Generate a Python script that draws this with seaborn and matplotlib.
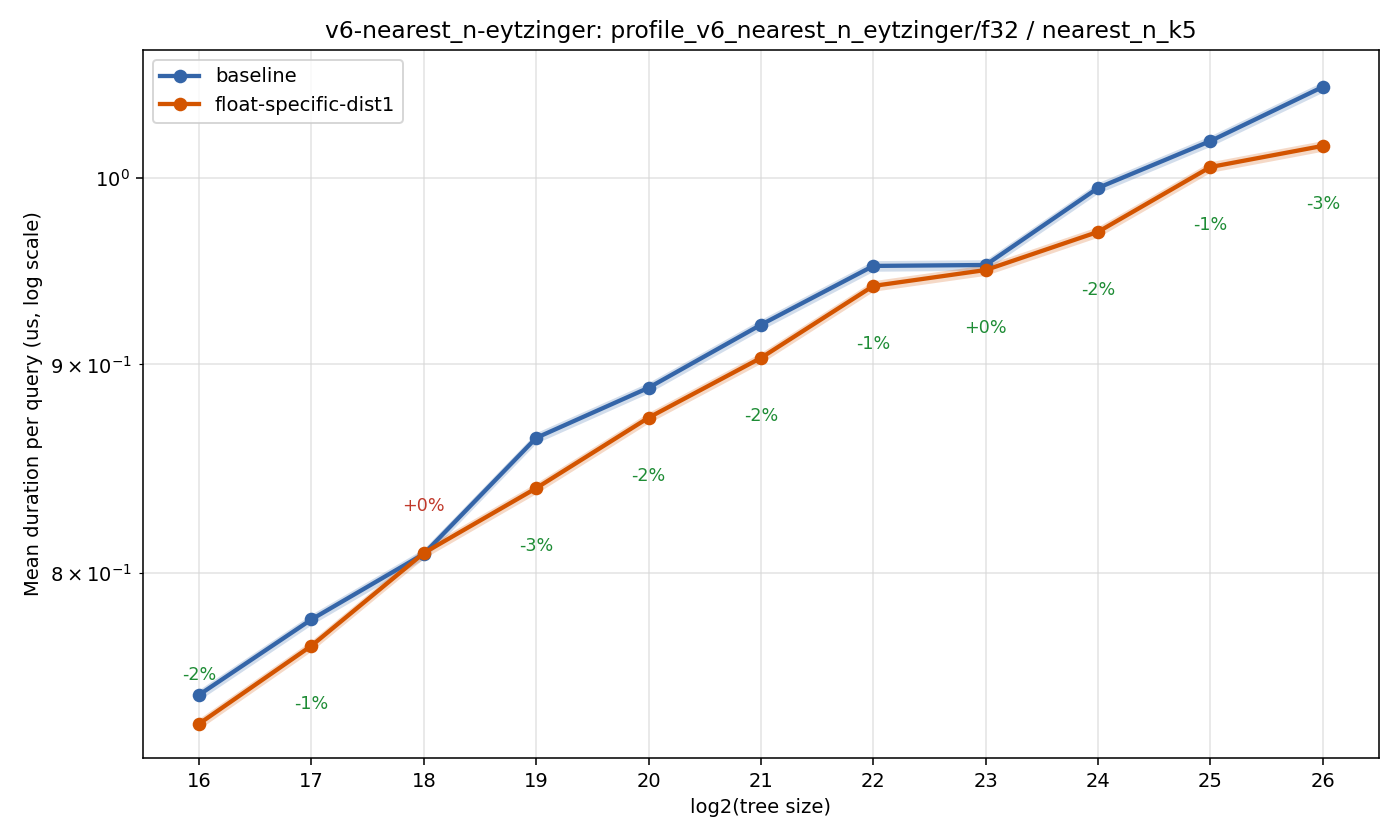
import numpy as np
import pandas as pd
import matplotlib
matplotlib.use("Agg")
import matplotlib.pyplot as plt
import seaborn as sns

# ---- data ----
tree_log2 = [16, 17, 18, 19, 20, 21, 22, 23, 24, 25, 26]
baseline = [0.7467, 0.7792, 0.8086, 0.8634, 0.8882, 0.9204, 0.9515, 0.9520, 0.9944, 1.0211, 1.0528]
float_dist1 = [0.7346, 0.7677, 0.8090, 0.8392, 0.8733, 0.9033, 0.9408, 0.9493, 0.9700, 1.0062, 1.0183]
# approx. half-width of the shaded spread band (relative)
baseline_spread = [0.003, 0.003, 0.003, 0.003, 0.003, 0.003, 0.003, 0.003, 0.003, 0.003, 0.003]
float_spread = [0.003, 0.003, 0.003, 0.003, 0.003, 0.003, 0.003, 0.003, 0.003, 0.003, 0.003]
series_names = ["baseline", "float-specific-dist1"]

title = "v6-nearest_n-eytzinger: profile_v6_nearest_n_eytzinger/f32 / nearest_n_k5"

colors = {"baseline": "#3465a8", "float-specific-dist1": "#d35400"}

df = pd.DataFrame({
    "x": tree_log2 * 2,
    "y": baseline + float_dist1,
    "series": [series_names[0]] * len(tree_log2) + [series_names[1]] * len(tree_log2),
})

fig = plt.figure(figsize=(10, 6), dpi=140)
ax = fig.add_axes([0.1021, 0.0976, 0.8829, 0.8429])

sns.lineplot(data=df, x="x", y="y", hue="series", palette=colors, marker="o",
             markersize=7, markeredgewidth=0, linewidth=2.2, ax=ax, zorder=3)

for name, vals, spr in [(series_names[0], baseline, baseline_spread),
                        (series_names[1], float_dist1, float_spread)]:
    v = np.array(vals)
    s = np.array(spr)
    ax.fill_between(tree_log2, v * (1 - s), v * (1 + s), color=colors[name],
                    alpha=0.22, linewidth=0, zorder=2)

ax.set_yscale("log")
ax.set_xlim(15.5, 26.5)
ax.set_ylim(0.7205, 1.075)
ax.set_xticks(tree_log2)
ax.set_xticklabels([str(t) for t in tree_log2])
ax.grid(True, which="both", color="#d8d8d8", linewidth=0.8, alpha=0.7)
ax.set_axisbelow(True)

ax.set_xlabel("log2(tree size)", fontsize=10)
ax.set_ylabel("Mean duration per query (us, log scale)", fontsize=10)
ax.set_title(title, fontsize=12)
ax.tick_params(labelsize=10)

leg = ax.legend(loc="upper left", fontsize=10, frameon=True, title=None)
for line in leg.get_lines():
    line.set_linewidth(2.2)

ymin = ax.get_ylim()[0]
for x, b, f in zip(tree_log2, baseline, float_dist1):
    pct = (f / b - 1) * 100
    label = f"{round(pct):+d}%"
    col = "#c0392b" if pct > 0 else "#1e8c35"
    if pct > 0:
        ax.annotate(label, (x, max(b, f)), xytext=(0, 24.3), textcoords="offset points",
                    ha="center", va="center", color=col, fontsize=9)
    else:
        lo = min(b, f)
        # check whether placing below would leave the axes
        if np.log10(lo) - 58 / 4075 < np.log10(ymin) + 15 / 4075:
            ax.annotate(label, (x, max(b, f)), xytext=(0, 10), textcoords="offset points",
                        ha="center", va="center", color=col, fontsize=9)
        else:
            ax.annotate(label, (x, lo), xytext=(0, -30), textcoords="offset points",
                        ha="center", va="center", color=col, fontsize=9)

fig.savefig("out.png", dpi=140)
